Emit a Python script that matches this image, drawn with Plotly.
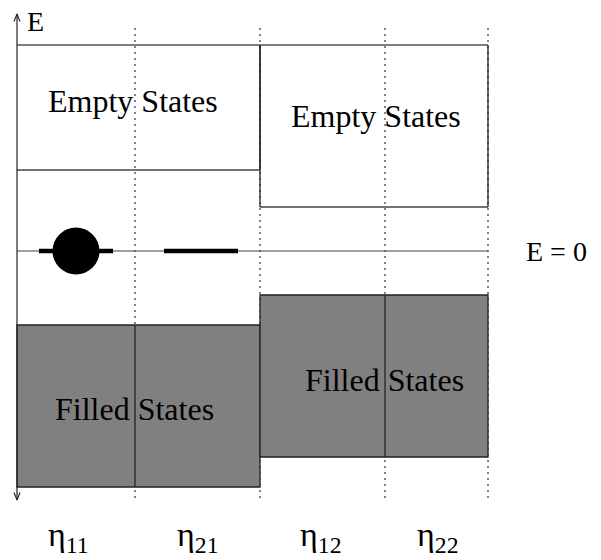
import plotly.graph_objects as go

# ---- data (arbitrary energy units; E = 0 is the Fermi level) ----
col_edges = [0.0, 11.8, 24.3, 36.8, 47.1]          # boundaries of the four columns
col_labels = ["η<sub>11</sub>", "η<sub>21</sub>", "η<sub>12</sub>", "η<sub>22</sub>"]
col_label_x = [2.9, 15.8, 28.1, 39.8]

band_top = 20.6                                     # top of empty-state region
cond_bottom = [8.1, 4.4]                            # bottom of empty states (block 1, block 2)
val_top = [-7.4, -4.4]                              # top of filled states
val_bottom = [-23.6, -20.6]                         # bottom of filled states

empty_label_x = [11.6, 35.9]
empty_label_E = [15.0, 13.5]
filled_label_x = [11.75, 36.75]
filled_label_E = [-15.8, -12.9]

level_segments = [(2.2, 9.6), (14.7, 22.1)]         # localized levels at E = 0
electron_x = [5.9]
electron_E = [0.0]

axis_top, axis_bottom = 23.7, -24.9
guide_top, guide_bottom = 22.6, -24.7

X_RANGE = [-0.9, 58.4]
Y_RANGE = [-30.9, 24.3]

FONT = "Liberation Serif"
LINE = "#222222"
GRAY = "#808080"

shapes = []
# dotted column guides
for xe in col_edges[1:]:
    shapes.append(dict(type="line", xref="x", yref="y", x0=xe, x1=xe, y0=guide_bottom, y1=guide_top,
                       line=dict(color="#333333", width=1.2, dash="2px,4px"), layer="below"))
# top of bands
shapes.append(dict(type="line", xref="x", yref="y", x0=col_edges[0], x1=col_edges[4], y0=band_top, y1=band_top,
                   line=dict(color="#555555", width=1.3), layer="below"))
# E = 0 line
shapes.append(dict(type="line", xref="x", yref="y", x0=col_edges[0], x1=col_edges[4], y0=0, y1=0,
                   line=dict(color="#444444", width=1.2), layer="below"))
# empty-state blocks
blocks = [(col_edges[0], col_edges[2]), (col_edges[2], col_edges[4])]
for (x0, x1), cb in zip(blocks, cond_bottom):
    shapes.append(dict(type="line", xref="x", yref="y", x0=x0, x1=x1, y0=cb, y1=cb,
                       line=dict(color="#444444", width=1.3), layer="below"))
    shapes.append(dict(type="line", xref="x", yref="y", x0=x1, x1=x1, y0=cb, y1=band_top,
                       line=dict(color=LINE, width=1.3), layer="below"))
shapes.append(dict(type="line", xref="x", yref="y", x0=col_edges[2], x1=col_edges[2], y0=cond_bottom[1], y1=band_top,
                   line=dict(color=LINE, width=1.3), layer="below"))
# filled-state blocks
for i, ((x0, x1), vt, vb) in enumerate(zip(blocks, val_top, val_bottom)):
    shapes.append(dict(type="rect", xref="x", yref="y", x0=x0, x1=x1, y0=vb, y1=vt,
                       fillcolor=GRAY, line=dict(color=LINE, width=1.3), layer="below"))
    xm = col_edges[2 * i + 1]
    shapes.append(dict(type="line", xref="x", yref="y", x0=xm, x1=xm, y0=vb, y1=vt,
                       line=dict(color=LINE, width=1.3), layer="below"))
# energy axis
shapes.append(dict(type="line", xref="x", yref="y", x0=0, x1=0, y0=axis_bottom, y1=axis_top,
                   line=dict(color=LINE, width=1.2), layer="below"))

fig = go.Figure()
# arrow heads on the energy axis
AH_W, AH_L = 0.3, 0.75
fig.add_trace(go.Scatter(x=[-AH_W, 0, AH_W], y=[axis_top - AH_L, axis_top, axis_top - AH_L],
                         mode="lines", line=dict(color=LINE, width=1.1), hoverinfo="skip", showlegend=False))
fig.add_trace(go.Scatter(x=[-AH_W, 0, AH_W], y=[axis_bottom + AH_L, axis_bottom, axis_bottom + AH_L],
                         mode="lines", line=dict(color=LINE, width=1.1), hoverinfo="skip", showlegend=False))
# localized levels
for (a, b) in level_segments:
    fig.add_trace(go.Scatter(x=[a, b], y=[0, 0], mode="lines", line=dict(color="black", width=4.5),
                             hoverinfo="skip", showlegend=False))
# electron
fig.add_trace(go.Scatter(x=electron_x, y=electron_E, mode="markers",
                         marker=dict(size=47, color="black", line=dict(width=0)),
                         hoverinfo="skip", showlegend=False))

ann = []
for xl, yl in zip(empty_label_x, empty_label_E):
    ann.append(dict(x=xl, y=yl, text="Empty States", showarrow=False,
                    font=dict(family=FONT, size=32, color="black"), xanchor="center", yanchor="middle"))
for xl, yl in zip(filled_label_x, filled_label_E):
    ann.append(dict(x=xl, y=yl, text="Filled States", showarrow=False,
                    font=dict(family=FONT, size=32, color="black"), xanchor="center", yanchor="middle"))
ann.append(dict(x=53.9, y=0, text="E = 0", showarrow=False,
                font=dict(family=FONT, size=28, color="black"), xanchor="center", yanchor="middle"))
ann.append(dict(x=0.8, y=23.0, text="E", showarrow=False,
                font=dict(family=FONT, size=28, color="black"), xanchor="left", yanchor="middle"))
for xl, lab in zip(col_label_x, col_labels):
    ann.append(dict(x=xl, y=-28.6, text=lab, showarrow=False,
                    font=dict(family=FONT, size=34, color="black"), xanchor="left", yanchor="middle"))

fig.update_layout(
    width=593, height=552, margin=dict(l=0, r=0, t=0, b=0),
    paper_bgcolor="white", plot_bgcolor="white",
    xaxis=dict(range=X_RANGE, visible=False, fixedrange=True),
    yaxis=dict(range=Y_RANGE, visible=False, fixedrange=True),
    shapes=shapes, annotations=ann, showlegend=False,
)
fig.write_html("out.html")
